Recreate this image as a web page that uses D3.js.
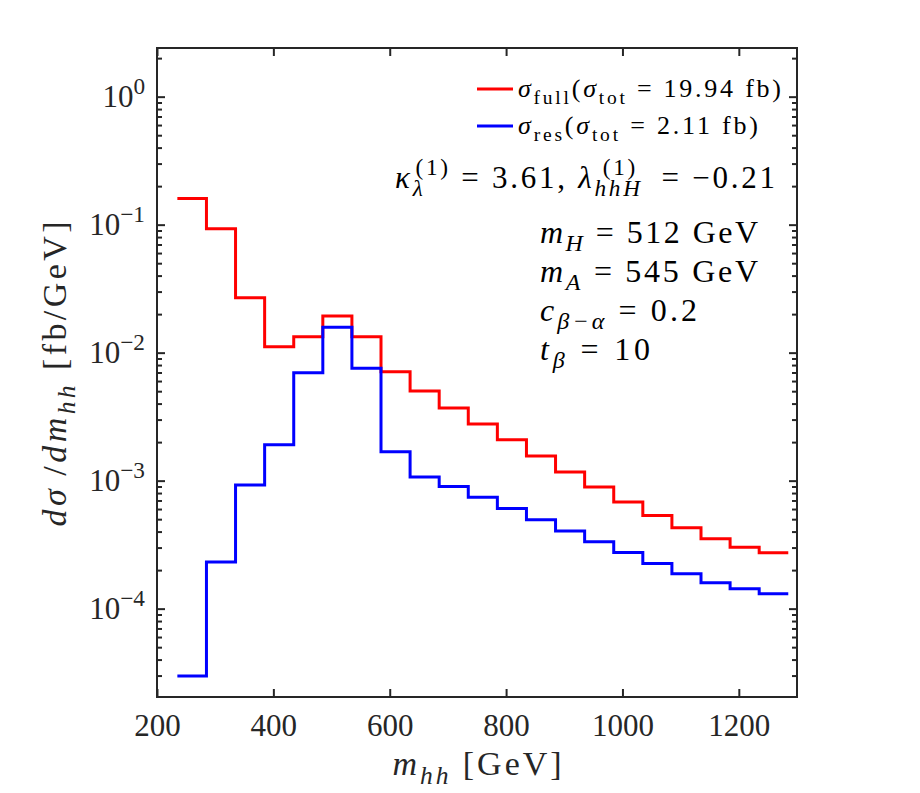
<!DOCTYPE html>
<html>
<head>
<meta charset="utf-8">
<script src="https://cdn.jsdelivr.net/npm/d3@7"></script>
<style>
  body { margin: 0; background: #fff; }
  text, tspan { font-family: "Liberation Serif", "DejaVu Serif", serif; }
</style>
</head>
<body>
<div id="chart"></div>
<script>
// bin edges of the m_hh histogram [GeV]
var binEdges = [235, 285, 335, 385, 435, 485, 535, 585, 635, 685, 735,
                785, 835, 885, 935, 985, 1035, 1085, 1135, 1185, 1235, 1285];
// sigma_full, fb/GeV
var fullVals = [0.160, 0.093, 0.0269, 0.0111, 0.0133, 0.0193, 0.0133, 0.00708,
                0.00502, 0.00369, 0.00277, 0.00209, 0.00156, 0.00117, 0.000893,
                0.000682, 0.000533, 0.000428, 0.000351, 0.000302, 0.000273];
// sigma_res, fb/GeV
var resVals = [2.97e-5, 2.31e-4, 9.25e-4, 1.91e-3, 6.98e-3, 0.0158, 7.55e-3,
               1.68e-3, 1.07e-3, 8.98e-4, 7.41e-4, 6.05e-4, 4.94e-4, 4.05e-4,
               3.33e-4, 2.75e-4, 2.25e-4, 1.87e-4, 1.59e-4, 1.43e-4, 1.31e-4];
var xTicks = [200, 400, 600, 800, 1000, 1200];
var yExps = [-4, -3, -2, -1, 0];

var W = 920, H = 793;
var margin = {top: 48, right: 123, bottom: 96, left: 157},
    width = W - margin.left - margin.right,
    height = H - margin.top - margin.bottom;
var ink = "#262626";
var THIN = "\u2009";

var svg = d3.select("#chart").append("svg")
  .attr("width", W).attr("height", H);
svg.append("rect").attr("width", W).attr("height", H).attr("fill", "#fff");

var g = svg.append("g")
  .attr("transform", "translate(" + margin.left + "," + margin.top + ")");

var x = d3.scaleLinear().domain([200, 1300]).range([0, width]);
var y = d3.scaleLog().domain([2.04e-5, 2.4]).range([height, 0]);

// math-like label: parts = [text, italic?, pos("b" sub / "p" sup), "back" = stack over previous sub]
function mathText(sel, px, py, size, parts, anchor, target, color) {
  var t = sel.append("text")
    .attr("x", px).attr("y", py)
    .attr("font-family", "Liberation Serif")
    .attr("font-size", size)
    .attr("fill", color || ink)
    .attr("text-anchor", anchor || "start");
  var shift = 0, lastLen = 0, pend = 0;
  parts.forEach(function(p) {
    var pos = p[2] || "";
    var off = pos == "b" ? size * 0.25 : pos == "p" ? -size * 0.42 : 0;
    var ts = t.append("tspan")
      .attr("dy", off - shift)
      .attr("font-size", pos ? size * 0.75 : size)
      .attr("font-style", p[1] ? "italic" : "normal")
      .text(p[0]);
    var len = ts.node().getComputedTextLength();
    if (p[3] == "back") {
      ts.attr("dx", -lastLen);
      pend = Math.max(0, lastLen - len);
    } else if (pend) {
      ts.attr("dx", pend);
      pend = 0;
    }
    lastLen = len;
    shift = off;
  });
  if (target) {
    var w = t.node().getComputedTextLength();
    if (w < target) t.attr("textLength", target).attr("lengthAdjust", "spacing");
  }
  return t;
}

// histogram lines
var pts = function(vals) {
  var a = vals.map(function(v, i) { return [binEdges[i], v]; });
  a.push([binEdges[binEdges.length - 1], vals[vals.length - 1]]);
  return a;
};
var line = d3.line()
  .x(function(d) { return x(d[0]); })
  .y(function(d) { return y(d[1]); })
  .curve(d3.curveStepAfter);

g.append("path").datum(pts(fullVals))
  .attr("d", line).attr("fill", "none")
  .attr("stroke", "#ff0000").attr("stroke-width", 3);
g.append("path").datum(pts(resVals))
  .attr("d", line).attr("fill", "none")
  .attr("stroke", "#0000ff").attr("stroke-width", 3);

// axes, ticks inside
var yMajor = yExps.map(function(e) { return Math.pow(10, e); });
var yMinor = [];
for (var e = -5; e <= 0; e++) {
  for (var m = 2; m <= 9; m++) {
    var v = m * Math.pow(10, e);
    if (v >= y.domain()[0] && v <= y.domain()[1]) yMinor.push(v);
  }
}

function styleAxis(a) {
  a.selectAll(".domain").remove();
  a.selectAll(".tick line").attr("stroke", ink).attr("stroke-width", 2);
}

var xb = g.append("g").attr("transform", "translate(0," + height + ")")
  .call(d3.axisBottom(x).tickValues(xTicks).tickFormat(d3.format("d"))
    .tickSize(-8).tickSizeOuter(0).tickPadding(17));
styleAxis(xb);
xb.selectAll("text").attr("font-size", 31).attr("fill", ink)
  .attr("font-family", "Liberation Serif");

var xt = g.append("g")
  .call(d3.axisTop(x).tickValues(xTicks).tickSize(-8).tickSizeOuter(0).tickFormat(""));
styleAxis(xt);

[[d3.axisLeft, 0], [d3.axisRight, width]].forEach(function(ax) {
  var a1 = g.append("g").attr("transform", "translate(" + ax[1] + ",0)")
    .call(ax[0](y).tickValues(yMajor).tickSize(-8).tickSizeOuter(0).tickFormat(""));
  styleAxis(a1);
  var a2 = g.append("g").attr("transform", "translate(" + ax[1] + ",0)")
    .call(ax[0](y).tickValues(yMinor).tickSize(-5).tickSizeOuter(0).tickFormat(""));
  styleAxis(a2);
});

g.append("rect").attr("width", width).attr("height", height)
  .attr("fill", "none").attr("stroke", ink).attr("stroke-width", 2);

// y tick labels 10^k
yExps.forEach(function(e) {
  mathText(g, -12, y(Math.pow(10, e)) + 10, 31,
    [["10", false], [e < 0 ? "\u2212" + (-e) : String(e), false, "p"]], "end");
});

// axis labels
mathText(svg, 477, 775, 34,
  [["m", true], ["hh", true, "b"], [" [GeV]", false]], "middle", 169);
mathText(svg.append("g").attr("transform", "translate(66,374) rotate(-90)"), 0, 0, 34,
  [["d\u03c3", true], [THIN + "/", false], ["dm", true], ["hh", true, "b"],
   [" [fb/GeV]", false]], "middle", 305);

// legend
var legend = [
  {color: "#ff0000", cy: 89, w: 263, parts: [["\u03c3", true], ["full", false, "b"], ["(", false],
    ["\u03c3", true], ["tot", false, "b"], [" = 19.94 fb)", false]]},
  {color: "#0000ff", cy: 126, w: 240, parts: [["\u03c3", true], ["res", false, "b"], ["(", false],
    ["\u03c3", true], ["tot", false, "b"], [" = 2.11 fb)", false]]}
];
legend.forEach(function(l) {
  svg.append("line").attr("x1", 477).attr("x2", 513)
    .attr("y1", l.cy).attr("y2", l.cy)
    .attr("stroke", l.color).attr("stroke-width", 3);
  mathText(svg, 518, l.cy + 8, 26, l.parts, "start", l.w, "#000");
});

// parameter annotations
mathText(svg, 775, 188, 31, [
  ["\u03ba", true], ["\u03bb", true, "b"], ["(1)", false, "p", "back"],
  [" = 3.61, ", false], ["\u03bb", true], ["hhH", true, "b"], ["(1)", false, "p", "back"],
  [" = \u22120.21", false]], "end", 380, "#000");

var params = [
  {w: 218, parts: [["m", true], ["H", true, "b"], [" = 512 GeV", false]]},
  {w: 218, parts: [["m", true], ["A", true, "b"], [" = 545 GeV", false]]},
  {w: 157, parts: [["c", true], ["\u03b2\u2212\u03b1", true, "b"], [" = 0.2", false]]},
  {w: 110, parts: [["t", true], ["\u03b2", true, "b"], [" = 10", false]]}
];
params.forEach(function(p, i) {
  mathText(svg, 540, 243 + i * 39, 32, p.parts, "start", p.w, "#000");
});
</script>
</body>
</html>
